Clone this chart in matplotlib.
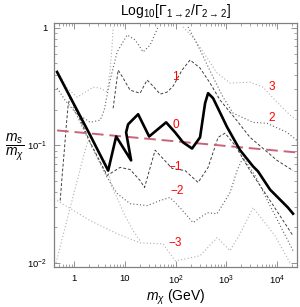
import numpy as np
import matplotlib
matplotlib.use('Agg')
import matplotlib.pyplot as plt
from matplotlib.ticker import FixedLocator, LogLocator, NullFormatter

plt.rcParams['font.family'] = ['Liberation Sans', 'DejaVu Sans']
plt.rcParams['mathtext.fontset'] = 'custom'
plt.rcParams['mathtext.rm'] = 'Liberation Sans'
plt.rcParams['mathtext.it'] = 'Liberation Sans:italic'
plt.rcParams['mathtext.bf'] = 'Liberation Sans:bold'

# contour 0 (solid)
x_c0 = [0.46, 2.07, 4.69, 6.74, 13.3, 10.6, 11.6, 18.3, 30.2, 65.3, 98.2, 141, 212,
        305, 384, 440, 552, 1042, 1880, 3395, 4257, 7347, 16630, 20870]
y_c0 = [0.421, 0.122, 0.061, 0.119, 0.0745, 0.129, 0.151, 0.184, 0.119, 0.157, 0.129, 0.106, 0.094,
        0.117, 0.229, 0.278, 0.252, 0.143, 0.091, 0.0662, 0.060, 0.042, 0.0295, 0.0262]

# contour +1 (dashed)
x_p1 = [5.88, 6.74, 7.38, 9.25, 12.7, 20.0, 27.5, 36.1, 49.7, 68.3, 89.7, 135, 194,
        305, 481, 758, 1499, 2958, 10090, 20870]
y_p1 = [0.207, 0.326, 0.438, 0.374, 0.295, 0.278, 0.360, 0.319, 0.273, 0.284, 0.319, 0.438, 0.533,
        0.455, 0.339, 0.243, 0.170, 0.117, 0.0745, 0.061]

# contour -1 (dashed)
x_m1 = [0.53, 0.58, 0.64, 0.70, 0.76, 0.83, 1.05, 2.07, 4.48, 8.08, 12.7, 20.0, 24.5, 39.6,
        56.9, 85.7, 155, 279, 440, 693, 951, 1499, 2958, 7347, 20870]
y_m1 = [0.0339, 0.0554, 0.091, 0.148, 0.220, 0.257, 0.207, 0.106, 0.0554, 0.0649, 0.0623, 0.0502, 0.0438, 0.091,
        0.077, 0.0636, 0.061, 0.0483, 0.0649, 0.117, 0.127, 0.100, 0.061, 0.0339, 0.0170]

# contour +2 (dotted), two pieces
x_p2a = [0.46, 0.66, 1.05, 2.07, 3.26, 3.91, 5.13, 7.05, 11.1, 16.0, 23.0, 31.6, 45.4]
y_p2a = [0.307, 0.243, 0.191, 0.157, 0.164, 0.199, 0.360, 0.624, 0.871, 0.789, 0.624, 0.716, 1.02]
x_p2b = [177, 305, 527, 869, 1368, 3395, 6412, 15900, 25000]
y_p2b = [1.02, 0.649, 0.397, 0.257, 0.188, 0.157, 0.154, 0.129, 0.110]

# contour -2 (dotted)
x_m2 = [0.95, 2.07, 4.48, 7.05, 12.7, 27.5, 49.7, 78.2, 123, 222, 420, 662, 1194, 1640,
        2155, 3715, 7347, 20870]
y_m2 = [0.211, 0.104, 0.0532, 0.0389, 0.0319, 0.0307, 0.0339, 0.036, 0.0295, 0.022, 0.0267, 0.0262, 0.0397, 0.061,
        0.079, 0.0554, 0.0307, 0.0127]

# contour +3 (light dotted), two pieces
x_p3a = [0.46, 0.73, 1.15, 1.65, 2.37, 3.26, 4.48, 5.13, 5.62, 5.88]
y_p3a = [0.438, 0.307, 0.257, 0.284, 0.313, 0.307, 0.284, 0.438, 0.716, 1.02]
x_p3b = [141, 244, 384, 662, 1194, 2958, 5342, 10090, 18200, 25000]
y_p3b = [1.02, 0.789, 0.588, 0.413, 0.339, 0.345, 0.313, 0.233, 0.181, 0.164]

# contour -3 (light dotted), three pieces
x_m3a = [0.44, 0.70, 1.15, 1.65, 1.89]
y_m3a = [0.0100, 0.022, 0.0502, 0.091, 0.110]
x_m3b = [0.46, 2.07, 7.05, 20.0, 56.9, 98.2, 155, 305, 662, 1194, 1880, 3395, 9210, 18200]
y_m3b = [0.0339, 0.0229, 0.0177, 0.0148, 0.0145, 0.0104, 0.0108, 0.0115, 0.0164, 0.0127, 0.0177, 0.0295, 0.0170, 0.0100]
x_m3c = [4.09, 5.62, 10.1, 14.6, 20.0]
y_m3c = [0.0745, 0.0438, 0.0252, 0.0188, 0.0154]

# straight reference line
x_ref = [0.46, 25000]
y_ref = [0.134, 0.087]

labels = ['3', '2', '1', '0', '\u22121', '\u22122', '\u22123']
lab_x = [8043, 8043, 98.2, 103, 98.2, 108, 98.2]
lab_y = [0.313, 0.170, 0.381, 0.148, 0.0649, 0.0412, 0.0148]

fig = plt.figure(figsize=(3.0, 3.07), dpi=100)
ax = fig.add_axes([0.18, 0.13, 0.81, 0.795])

light = '#b0b0b0'
dark = '#606060'
ax.plot(x_p3a, y_p3a, ls=(0, (1, 2)), color=light, lw=0.8)
ax.plot(x_p3b, y_p3b, ls=(0, (1, 2)), color=light, lw=0.8)
ax.plot(x_m3a, y_m3a, ls=(0, (1, 2)), color=light, lw=0.8)
ax.plot(x_m3b, y_m3b, ls=(0, (1, 2)), color=light, lw=0.8)
ax.plot(x_m3c, y_m3c, ls=(0, (1, 2)), color=light, lw=0.8)
ax.plot(x_p2a, y_p2a, ls=(0, (1, 2)), color=dark, lw=0.8)
ax.plot(x_p2b, y_p2b, ls=(0, (1, 2)), color=dark, lw=0.8)
ax.plot(x_m2, y_m2, ls=(0, (1, 2)), color=dark, lw=0.8)
ax.plot(x_p1, y_p1, ls=(0, (3, 2)), color='#404040', lw=0.7)
ax.plot(x_m1, y_m1, ls=(0, (3, 2)), color='#404040', lw=0.7)
ax.plot(x_ref, y_ref, ls=(0, (6, 3)), color='#c8647a', lw=1.4)
ax.plot(x_c0, y_c0, color='black', lw=1.9)

for t, xx, yy in zip(labels, lab_x, lab_y):
    ax.text(xx, yy, t, color='red', fontsize=8.5, ha='center', va='center')

ax.set_xscale('log')
ax.set_yscale('log')
ax.set_xlim(0.40, 25000)
ax.set_ylim(0.0092, 1.1)

ax.xaxis.set_major_locator(FixedLocator([1, 10, 100, 1000, 10000]))
ax.set_xticklabels(['1', '10', '10$^2$', '10$^3$', '10$^4$'])
ax.xaxis.set_minor_locator(LogLocator(base=10, subs=np.arange(2, 10)))
ax.xaxis.set_minor_formatter(NullFormatter())
ax.yaxis.set_major_locator(FixedLocator([0.01, 0.1, 1]))
ax.set_yticklabels(['10$^{-2}$', '10$^{-1}$', '1'])
ax.yaxis.set_minor_locator(LogLocator(base=10, subs=np.arange(2, 10)))
ax.yaxis.set_minor_formatter(NullFormatter())

ax.tick_params(which='both', direction='in', top=True, right=True, labelsize=6.8, color='#808080')
ax.tick_params(axis='y', pad=5)
ax.tick_params(axis='x', pad=5)
ax.tick_params(which='major', length=4, width=0.6)
ax.tick_params(which='minor', length=2, width=0.5)
for s in ax.spines.values():
    s.set_color('#808080')
    s.set_linewidth(0.9)

ax.set_title(r'Log$_{10}$[$\Gamma_{1\to2}/\Gamma_{2\to2}$]', fontsize=10, pad=6)
ax.set_xlabel(r'$m_\chi$ (GeV)', fontsize=10, labelpad=0)
ax.set_ylabel(r'$\dfrac{m_s}{m_\chi}$', fontsize=10, rotation=0, ha='center', va='center')
ax.yaxis.set_label_coords(-0.16, 0.49)

fig.savefig('out.png', dpi=100)
